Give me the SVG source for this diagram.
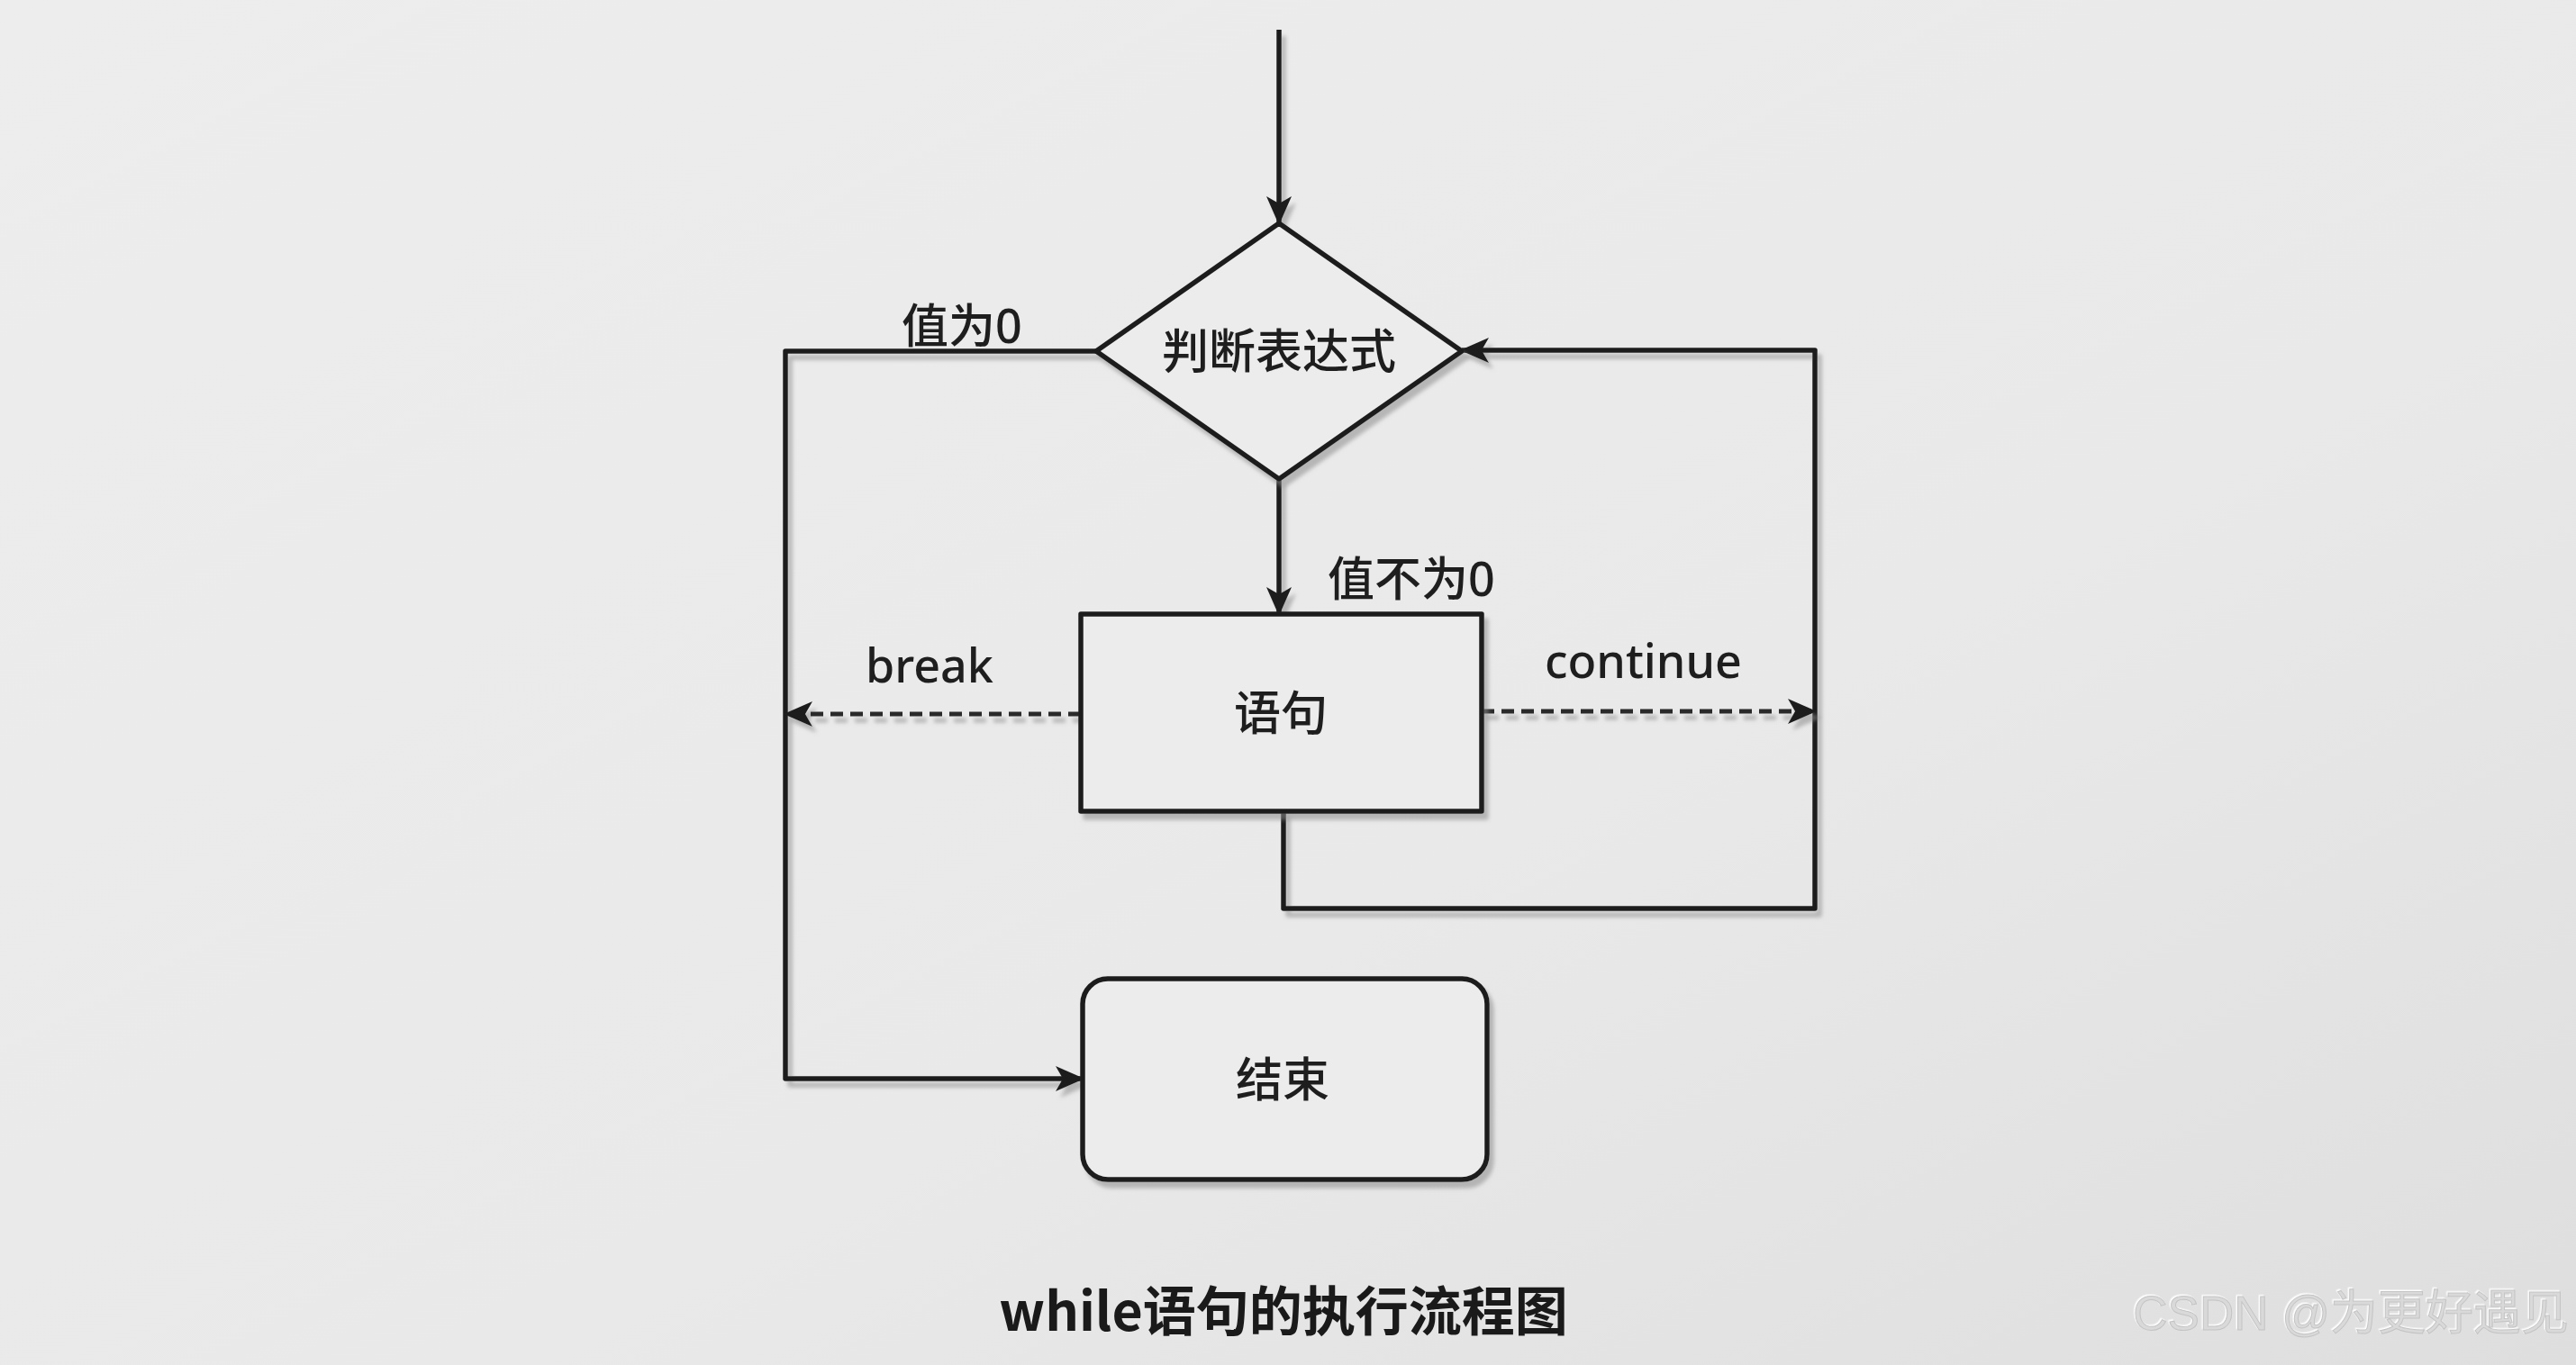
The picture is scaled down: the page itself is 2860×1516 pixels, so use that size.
<svg xmlns="http://www.w3.org/2000/svg" width="2860" height="1516" viewBox="0 0 2860 1516">
<defs>
<marker id="arrow" markerUnits="userSpaceOnUse" markerWidth="34" markerHeight="28" refX="30" refY="14" orient="auto">
<path d="M0,0 L32,14 L0,28 L8,14 Z" fill="#1f1f1f"/>
</marker>
<filter id="shadow" filterUnits="userSpaceOnUse" x="0" y="0" width="2860" height="1516">
<feDropShadow dx="5" dy="7" stdDeviation="2" flood-color="#8a8a8a" flood-opacity="0.55"/>
</filter>
<filter id="emboss" filterUnits="userSpaceOnUse" x="0" y="0" width="2860" height="1516">
<feDropShadow dx="-1.5" dy="-1.5" stdDeviation="0.6" flood-color="#ffffff" flood-opacity="0.9"/>
</filter>
<linearGradient id="bg" x1="0" y1="0" x2="1" y2="1">
<stop offset="0" stop-color="#ededed"/>
<stop offset="0.6" stop-color="#e9e9e9"/>
<stop offset="1" stop-color="#dedede"/>
</linearGradient>
</defs>
<style>
.shape{fill:#ececec;stroke:#1f1f1f;stroke-width:5.5;stroke-linejoin:round}
.conn{fill:none;stroke:#1f1f1f;stroke-width:5.5;stroke-linejoin:round;filter:url(#shadow)}
.dash{fill:none;stroke:#2a2a2a;stroke-width:5;stroke-dasharray:14 8;filter:url(#shadow)}
.lbl{font-family:"Noto Sans","Noto Sans CJK SC",sans-serif;font-size:52px;font-weight:500;fill:#1e1e1e}
.title{font-family:"Noto Sans CJK SC","Noto Sans",sans-serif;font-size:59px;font-weight:bold;fill:#1a1a1a}
.wm{font-family:"Liberation Sans","Noto Sans CJK SC",sans-serif;font-size:53px;fill:#d9d9d9;stroke:#c4c4c4;stroke-width:1;filter:url(#emboss)}
</style>
<rect x="0" y="0" width="2860" height="1516" fill="url(#bg)"/>

<g id="connectors">
<path class="conn" d="M1420,33 L1420,248" marker-end="url(#arrow)"/>
<path class="conn" d="M1420,532 L1420,682" marker-end="url(#arrow)"/>
<path class="conn" d="M1217,390 L872,390 L872,1198 L1202,1198" marker-end="url(#arrow)"/>
<path class="conn" d="M1425,901 L1425,1009 L2015,1009 L2015,389 L1623,389" marker-end="url(#arrow)"/>
<path class="dash" d="M1200,793 L872,793" marker-end="url(#arrow)"/>
<path class="dash" d="M1645,790 L2015,790" marker-end="url(#arrow)"/>
</g>

<g id="decision">
<polygon class="shape" filter="url(#shadow)" points="1420,248 1623,390 1420,532 1217,390"/>
<text class="lbl" x="1420" y="409" text-anchor="middle">判断表达式</text>
</g>

<g id="statement">
<rect class="shape" filter="url(#shadow)" x="1200" y="682" width="445" height="219"/>
<text class="lbl" x="1422" y="811" text-anchor="middle">语句</text>
</g>

<g id="end">
<rect class="shape" filter="url(#shadow)" x="1202" y="1087" width="449" height="223" rx="28" ry="28"/>
<text class="lbl" x="1424" y="1218" text-anchor="middle">结束</text>
</g>

<g id="labels">
<text class="lbl" x="1001" y="381">值为0</text>
<text class="lbl" x="1474" y="662">值不为0</text>
<text class="lbl" x="961" y="758">break</text>
<text class="lbl" x="1715" y="753">continue</text>
</g>

<text class="title" x="1425" y="1478" text-anchor="middle">while语句的执行流程图</text>
<text class="wm" x="2852" y="1477" text-anchor="end">CSDN @为更好遇见</text>
</svg>
